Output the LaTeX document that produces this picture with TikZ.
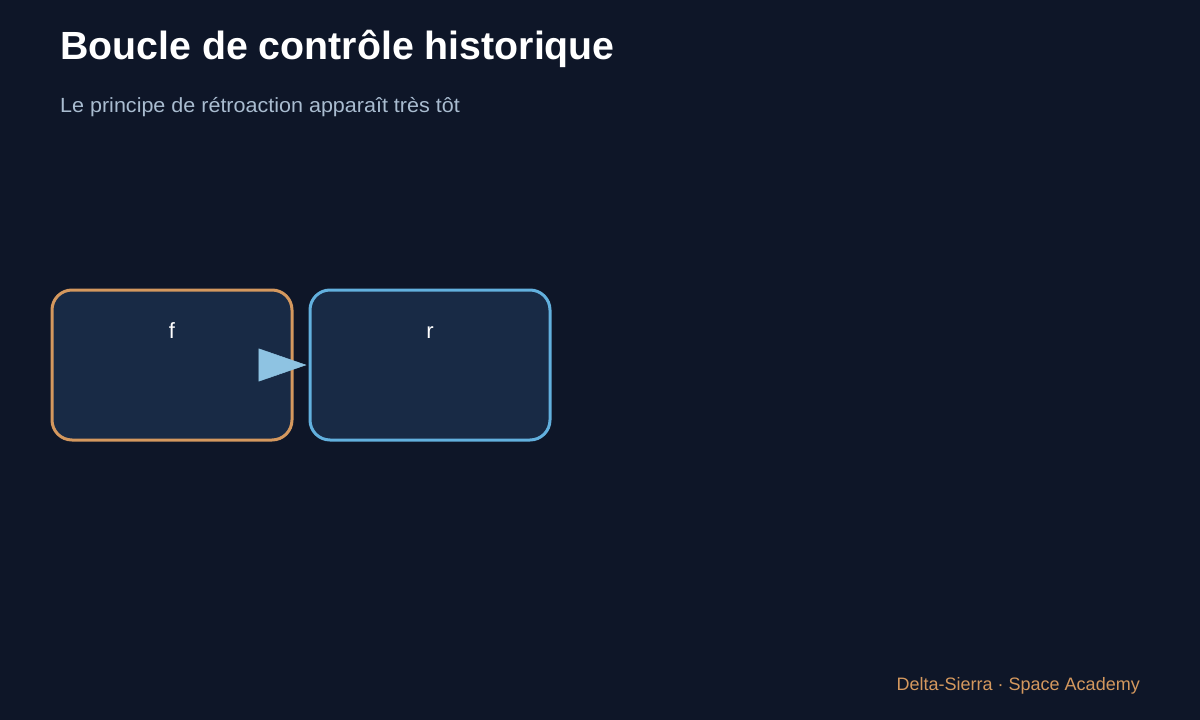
\documentclass[tikz,border=0pt]{standalone}
\usepackage{fontspec}
\setmainfont{Liberation Sans}
\usetikzlibrary{arrows.meta}
\definecolor{bg}{HTML}{0E1628}
\definecolor{boxfill}{HTML}{182A45}
\definecolor{orangeedge}{HTML}{D4985E}
\definecolor{blueedge}{HTML}{62B0DE}
\definecolor{arrowcol}{HTML}{8EC3E2}
\definecolor{subcol}{HTML}{A9BCD0}
\definecolor{footcol}{HTML}{D4985E}
\tikzset{
  card/.style={draw, line width=3pt, fill=boxfill, rounded corners=20pt, minimum width=240pt, minimum height=150pt, inner sep=0pt},
  cardlabel/.style={text=white, font=\fontsize{22}{26}\selectfont, anchor=base, inner sep=0pt},
  conn/.style={draw=arrowcol, line width=0.5pt, -{Triangle[length=48pt, width=33pt, fill=arrowcol]}, shorten >=2pt}
}
\begin{document}
\begin{tikzpicture}[x=1pt, y=-1pt]
\useasboundingbox (0,0) rectangle (1200,720);
\fill[bg] (0,0) rectangle (1200,720);
\node[anchor=base west, inner sep=0pt, text=white, font=\fontsize{39.3}{44}\selectfont\bfseries] (title) at (60,59) {Boucle de contrôle historique};
\node[anchor=base west, inner sep=0pt, text=subcol, font=\fontsize{20.5}{24}\selectfont, xscale=1.05] (subtitle) at (60,112) {Le principe de rétroaction apparaît très tôt};
\node[card, draw=orangeedge] (f) at (172,365) {};
\node[card, draw=blueedge] (r) at (430,365) {};
\node[cardlabel] (flabel) at (172,338) {f};
\node[cardlabel] (rlabel) at (430,338) {r};
\draw[conn] (f.east) -- (r.west);
\node[anchor=base east, inner sep=0pt, text=footcol, font=\fontsize{18}{22}\selectfont] (footer) at (1140,690) {Delta-Sierra · Space Academy};
\end{tikzpicture}
\end{document}
